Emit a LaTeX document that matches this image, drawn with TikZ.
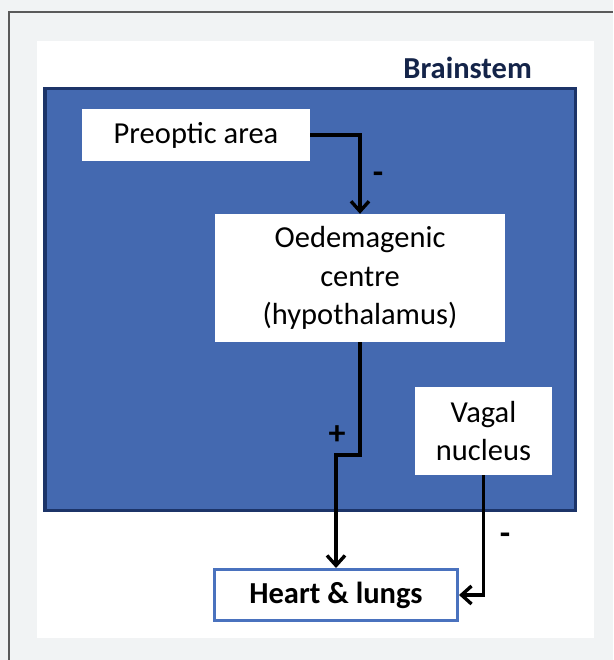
\documentclass[tikz,border=0pt]{standalone}
\usepackage{fontspec}
\setmainfont{Carlito}
\usetikzlibrary{positioning,arrows.meta,calc}
\definecolor{bsblue}{RGB}{68,105,176}
\definecolor{bsnavy}{RGB}{28,52,104}
\definecolor{bsedge}{RGB}{74,114,190}
\definecolor{bsgrey}{RGB}{241,243,244}
\definecolor{bsframe}{RGB}{90,90,90}
\tikzset{
  box/.style={fill=white, align=center, inner sep=0pt, font=\fontsize{30.5}{38.5}\selectfont},
  outbox/.style={draw=bsedge, line width=3pt, fill=white, align=center, inner sep=0pt, font=\fontsize{30.5}{36}\selectfont\bfseries},
  arrow/.style={-{Straight Barb[length=10pt,width=18pt]}, line width=3.4pt, black},
  sign/.style={font=\fontsize{34}{34}\selectfont\bfseries, inner sep=0pt}
}

\begin{document}
\begin{tikzpicture}[x=1pt,y=-1pt]
    \useasboundingbox (0,0) rectangle (613,660);
    \fill[bsgrey] (0,0) rectangle (613,660);
    \draw[bsframe, line width=1.2pt] (9,660) -- (9,12) -- (613,12);
    \fill[white] (37,41) rectangle (594,638);
    % brainstem region
    \node[draw=bsnavy, line width=3.5pt, fill=bsblue, minimum width=530.5pt, minimum height=421.5pt, inner sep=0pt] (stem) at (310,299.5) {};
    \node[anchor=east, inner sep=0pt, text=bsnavy!70!black, font=\fontsize{30.5}{36}\selectfont\bfseries] (stemlabel) at (532,68) {Brainstem};
    \node[box, minimum width=228pt, minimum height=52pt] (preoptic) at (196,135) {Preoptic area};
    \node[box, minimum width=290pt, minimum height=128pt] (oedema) at (360,278) {Oedemagenic\\centre\\(hypothalamus)};
    \node[box, minimum width=137pt, minimum height=88pt] (vagal) at (483.5,431) {Vagal\\nucleus};
    \node[outbox, minimum width=243pt, minimum height=51pt] (heart) at (336,595) {Heart \& lungs};
    \coordinate (jog) at (360,455);
    \draw[arrow] (preoptic.east) -| (oedema.north);
    \draw[arrow] (oedema.south) -- (jog) -| (heart.north);
    \draw[arrow] (vagal.south) |- (heart.east);
    \node[sign] (minusa) at (378,178) {-};
    \node[sign] (plus) at (337,435) {+};
    \node[sign] (minusb) at (505,539) {-};
  \end{tikzpicture}
\end{document}
